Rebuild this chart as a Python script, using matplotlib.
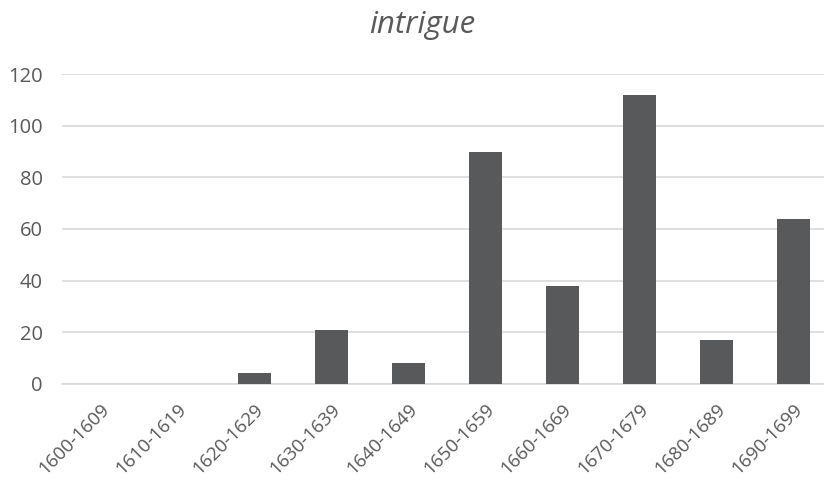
import matplotlib
matplotlib.use("Agg")
import matplotlib.pyplot as plt

decades = ["1600-1609", "1610-1619", "1620-1629", "1630-1639", "1640-1649",
           "1650-1659", "1660-1669", "1670-1679", "1680-1689", "1690-1699"]
counts = [0, 0, 4, 21, 8, 90, 38, 112, 17, 64]
y_ticks = [0, 20, 40, 60, 80, 100, 120]

plt.rcParams['font.family'] = ['Open Sans', 'DejaVu Sans']
text_color = "#595959"
grid_color = "#d9d9d9"

fig = plt.figure(figsize=(8.24, 4.86), dpi=100)
# plot area runs slightly past the right edge of the canvas
ax = fig.add_axes([62 / 824, 0.2105, 770 / 824, 0.637])

x = range(len(decades))
ax.bar(x, counts, width=0.43, color="#58595b", zorder=3)

ax.set_xlim(-0.5, len(decades) - 0.5)
ax.set_ylim(0, 120)
ax.set_yticks(y_ticks)
ax.set_yticklabels([str(v) for v in y_ticks], color=text_color, fontsize=14.5)
ax.set_xticks(list(x))
ax.set_xticklabels(decades, rotation=45, ha="right", va="top",
                   rotation_mode="anchor", color=text_color, fontsize=13.5)

ax.grid(axis="y", color=grid_color, linewidth=1.2, zorder=0)
ax.tick_params(axis="both", length=0)
ax.tick_params(axis="x", pad=12)
ax.tick_params(axis="y", pad=14)
for side in ["top", "right", "left"]:
    ax.spines[side].set_visible(False)
ax.spines["bottom"].set_color(grid_color)
ax.spines["bottom"].set_linewidth(1.2)

fig.text(0.512, 0.948, "intrigue", ha="center", va="center",
         fontsize=22.5, style="italic", color=text_color)

fig.savefig("out.png", dpi=100, facecolor="white")
